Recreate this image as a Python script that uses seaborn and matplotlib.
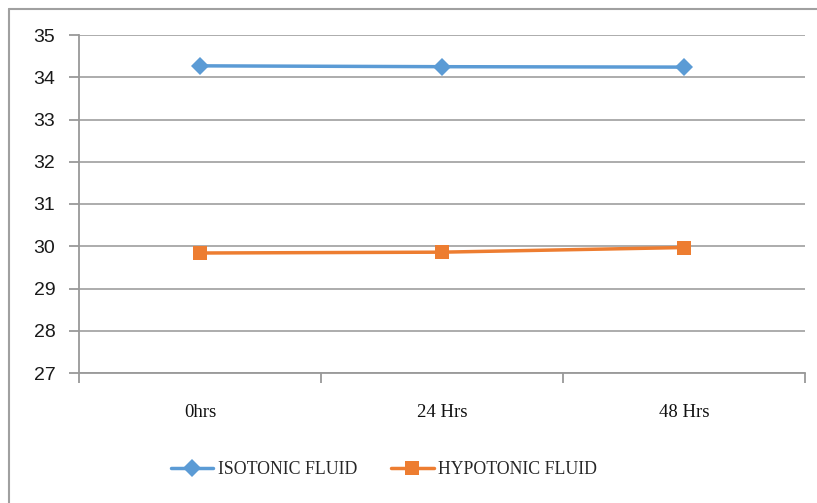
import matplotlib
matplotlib.use("Agg")
import matplotlib.pyplot as plt
import seaborn as sns
import pandas as pd
from matplotlib.lines import Line2D

categories = ["0hrs", "24 Hrs", "48 Hrs"]
isotonic = [34.27, 34.25, 34.24]
hypotonic = [29.84, 29.86, 29.97]
series_names = ["ISOTONIC FLUID", "HYPOTONIC FLUID"]
y_ticks = [27, 28, 29, 30, 31, 32, 33, 34, 35]

df = pd.DataFrame({
    "time": categories * 2,
    "x": list(range(len(categories))) * 2,
    "value": isotonic + hypotonic,
    "series": [series_names[0]] * 3 + [series_names[1]] * 3,
})

sns.set_style("white", {"xtick.bottom": True, "ytick.left": True})
plt.rcParams["font.family"] = ["Liberation Sans", "DejaVu Sans"]

colors = {series_names[0]: "#5B9BD5", series_names[1]: "#ED7D31"}
markers = {series_names[0]: "D", series_names[1]: "s"}

fig = plt.figure(figsize=(8.17, 5.03), dpi=100)
ax = fig.add_axes([79/817, 1-373/503, (805-79)/817, (373-35)/503])

sns.lineplot(data=df, x="x", y="value", hue="series", style="series",
             markers=markers, dashes=False, palette=colors, ax=ax,
             linewidth=2.5, markersize=8, markeredgewidth=0, legend=False)
for line in ax.get_lines():
    if line.get_marker() == "s":
        line.set_markersize(10)
    else:
        line.set_markersize(9)

ax.set_xlim(-0.5, 2.5)
ax.set_ylim(27, 35)
ax.set_yticks(y_ticks)
ax.set_yticklabels([str(v) for v in y_ticks], fontsize=14, color="#1a1a1a")
ax.set_xticks(range(len(categories)))
ax.set_xticklabels(categories, family=["Liberation Serif"], fontsize=13.5, color="#111111")
ax.set_xticks([-0.5, 0.5, 1.5, 2.5], minor=True)
ax.tick_params(axis="x", which="major", length=0, pad=22)
ax.tick_params(axis="x", which="minor", length=7, color="#999999", width=1.3, direction="out")
ax.tick_params(axis="y", which="major", length=7, color="#999999", width=1.3, direction="out", pad=10)
ax.set_xlabel("")
ax.set_ylabel("")
ax.grid(axis="y", color="#a6a6a6", linewidth=1.3)
ax.set_axisbelow(True)
for s in ["top", "right"]:
    ax.spines[s].set_visible(False)
for s in ["left", "bottom"]:
    ax.spines[s].set_color("#999999")
    ax.spines[s].set_linewidth(1.3)

handles = [Line2D([0], [0], color=colors[n], marker=markers[n], linewidth=2.5,
                  markersize=9 if markers[n] == "D" else 10, markeredgewidth=0)
           for n in series_names]
fig.legend(handles, series_names, loc="center", bbox_to_anchor=(384/817, 1-470/503),
           ncol=2, frameon=False, prop={"family": "Liberation Serif", "size": 12.8},
           handlelength=2.4, columnspacing=1.9, handletextpad=0.25)

# outer frame (top and left)
fig.add_artist(Line2D([9/817, 1], [1-9/503, 1-9/503], transform=fig.transFigure, color="#a0a0a0", linewidth=1.5))
fig.add_artist(Line2D([9/817, 9/817], [0, 1-9/503], transform=fig.transFigure, color="#a0a0a0", linewidth=1.5))

fig.savefig("out.png", dpi=100)
